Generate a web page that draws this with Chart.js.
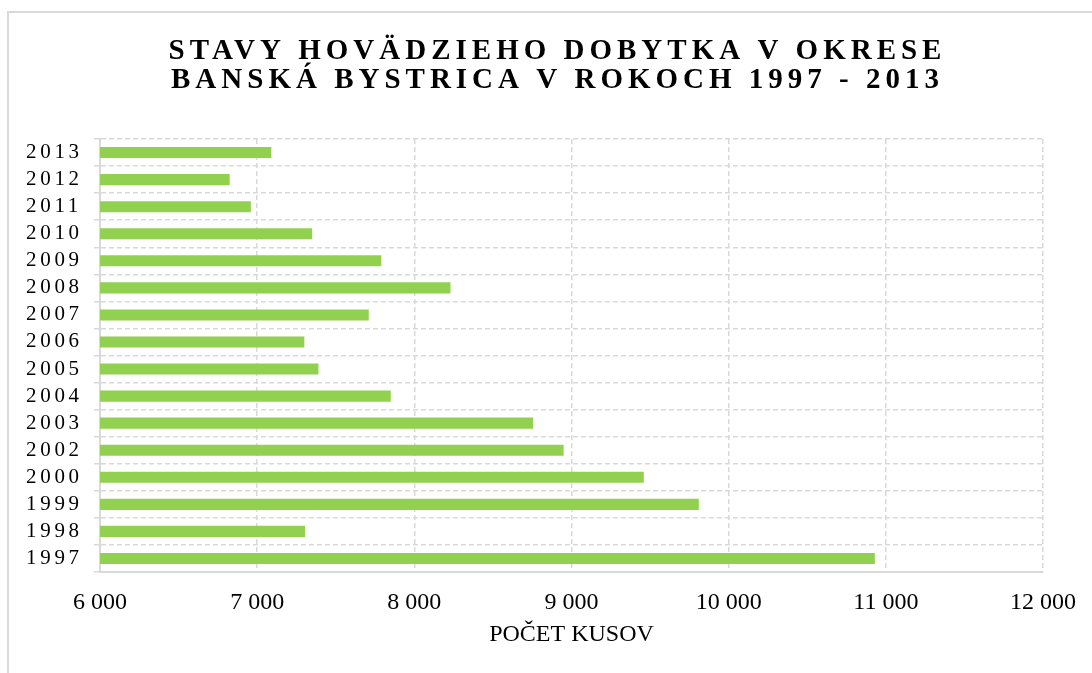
<!DOCTYPE html>
<html lang="sk">
<head>
<meta charset="utf-8">
<title>Stavy hovädzieho dobytka</title>
<script src="https://cdn.jsdelivr.net/npm/chart.js@4.4.1/dist/chart.umd.min.js"></script>
<style>
    html, body { margin: 0; padding: 0; background: #fff; overflow: hidden; }
    #frame {
        position: absolute; left: 7px; top: 11px;
        width: 1300px; height: 900px;
        border: 2px solid #d9d9d9;
    }
    #wrap { position: absolute; left: 0; top: 0; width: 1092px; height: 673px; }
</style>
</head>
<body>
<div id="frame"></div>
<div id="wrap"><canvas id="dobytokChart"></canvas></div>
<script>
// --- data ---
const roky = ['1997', '1998', '1999', '2000', '2002', '2003', '2004', '2005',
              '2006', '2007', '2008', '2009', '2010', '2011', '2012', '2013'];
const pocetKusov = [10930, 7305, 9810, 9460, 8950, 8755, 7850, 7390,
                    7300, 7710, 8230, 7790, 7350, 6960, 6825, 7090];
const xTickLabels = ['6 000', '7 000', '8 000', '9 000', '10 000', '11 000', '12 000'];
const nadpis = ['STAVY HOVÄDZIEHO DOBYTKA V OKRESE', 'BANSKÁ BYSTRICA V ROKOCH 1997 - 2013'];

const serif = "'Liberation Serif', 'Times New Roman', serif";
const gridColor = '#d9d9d9';

// letter spacing for title and year labels (Excel draws them spaced out),
// title is also shifted right since the Excel frame runs past the picture
const spacingPlugin = {
    id: 'spacing',
    beforeDraw(chart) {
        const ctx = chart.ctx;
        const y = chart.scales.y;
        if (y && !y._spaced) {
            const orig = y.drawLabels;
            y.drawLabels = function(area) {
                ctx.save();
                ctx.translate(26, 0);
                ctx.letterSpacing = '3.7px';
                orig.call(this, area);
                ctx.letterSpacing = '0px';
                ctx.restore();
            };
            y._spaced = true;
        }
        const t = chart.titleBlock;
        if (t && !t._spaced) {
            const origT = t.draw;
            t.draw = function(area) {
                ctx.save();
                ctx.translate(36, 0);
                ctx.letterSpacing = '5px';
                origT.call(this, area);
                ctx.letterSpacing = '0px';
                ctx.restore();
            };
            t._spaced = true;
        }
    }
};

document.addEventListener('DOMContentLoaded', function() {
    const el = document.getElementById('dobytokChart');
    new Chart(el, {
        type: 'bar',
        data: {
            labels: roky,
            datasets: [{
                label: 'Počet kusov',
                data: pocetKusov,
                backgroundColor: '#92d050',
                borderWidth: 0,
                barPercentage: 0.41,
                categoryPercentage: 1
            }]
        },
        options: {
            indexAxis: 'y',
            responsive: true,
            maintainAspectRatio: false,
            animation: false,
            layout: { padding: { left: 0, right: 49, top: 0, bottom: 0 } },
            plugins: {
                legend: { display: false },
                tooltip: { enabled: false },
                title: {
                    display: true,
                    text: nadpis,
                    color: '#000',
                    font: { family: serif, size: 29, weight: 'bold', lineHeight: 0.966 },
                    padding: { top: 38, bottom: 45 }
                }
            },
            scales: {
                x: {
                    min: 6000,
                    max: 12000,
                    ticks: {
                        stepSize: 1000,
                        color: '#000',
                        padding: 16,
                        maxRotation: 0,
                        font: { family: serif, size: 24 },
                        callback: (v, i) => xTickLabels[i]
                    },
                    grid: { color: gridColor, lineWidth: 1.5, drawTicks: false },
                    border: { display: true, color: gridColor, width: 2, dash: [5, 3] },
                    title: {
                        display: true,
                        text: 'POČET KUSOV',
                        color: '#000',
                        font: { family: serif, size: 24 },
                        padding: { top: 0, bottom: 24 }
                    },
                    afterFit(scale) { scale.height = 101; }
                },
                y: {
                    reverse: true,
                    ticks: {
                        color: '#000',
                        crossAlign: 'far',
                        autoSkip: false,
                        font: { family: serif, size: 21 }
                    },
                    grid: { color: gridColor, lineWidth: 1.5, tickLength: 6 },
                    border: { display: true, color: gridColor, width: 2, dash: [5, 3] },
                    afterFit(scale) { scale.width = 100; }
                }
            }
        },
        plugins: [spacingPlugin]
    });
});
</script>
</body>
</html>
